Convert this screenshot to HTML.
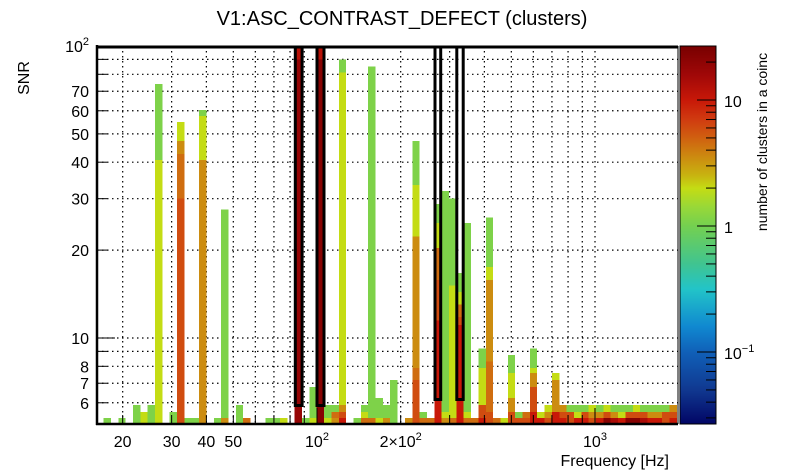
<!DOCTYPE html>
<html><head><meta charset="utf-8">
<style>
html,body{margin:0;padding:0;background:#fff;}
svg{display:block;font-family:"Liberation Sans",Arial,sans-serif;}
</style></head>
<body>
<svg id="chart" width="805" height="472" viewBox="0 0 805 472" xmlns="http://www.w3.org/2000/svg">
<text x="402" y="25" font-size="20" text-anchor="middle">V1:ASC_CONTRAST_DEFECT (clusters)</text>
<text transform="translate(29,78) rotate(-90)" font-size="16" text-anchor="middle">SNR</text>
<text x="669" y="466" font-size="16" text-anchor="end">Frequency [Hz]</text>
<text transform="translate(767,142) rotate(-90)" font-size="14" text-anchor="middle">number of clusters in a coinc</text>
<g id="grid"></g>
<g id="cells"></g>
<g id="boxes"></g>
<g id="axes"></g>
<g id="cbar"></g>
</svg>
<script>
// ---- data ----
const G=1.1,Y=2,AU=3.5,O=4.5,RO=6,R=10,RR=14,DR=22;
const B=5.08,r1=5.32,r2=5.57,r3=5.9;
const cellBins=[1,3,5,6,7,8,8,10,11,11,11,11,12,13,14,14,14,16,17,17,19,20,23,24,25,
27,27,28,29,29,30,30,31,31,32,32,32,33,33,33,33,33,35,36,36,36,37,37,38,38,39,39,40,42,
43,43,43,43,43,44,44,45,46,46,46,46,46,47,47,47,48,48,48,49,49,49,49,49,50,50,50,51,52,52,52,52,
53,53,53,53,53,54,55,56,56,56,56,57,57,58,58,59,59,59,59,59,60,60,61,61,61,62,62,62,
63,63,63,64,64,64,65,65,65,66,66,66,67,67,67,68,68,68,69,69,69,70,70,70,71,71,71,72,72,72,73,73,73,74,74,74,75,75,75,76,76,76,77,77,77,78,78,78];
const cellLo=[B,B,B,B,B,B,40.7,B,B,30,42.7,47.3,B,B,B,40.7,57.5,B,B,r1,B,B,B,B,B,
B,90,B,B,r1,B,90,B,r1,B,r1,r2,B,r1,r2,r3,81,B,B,r1,r2,B,r1,B,r1,B,r1,B,B,
B,7.18,7.9,22.3,33.4,B,r1,B,B,11.5,15.8,20.3,24.8,B,r1,r2,B,r1,15.1,B,11.1,11.8,13,14.4,B,r1,r2,B,B,r1,r3,7.9,
B,r2,8.3,15.8,17.5,B,B,B,r2,6.23,7.6,B,r1,B,r1,B,r2,6.8,7.6,7.9,B,r1,B,r1,r2,B,r2,7.18,
B,r1,r2,B,r1,r2,B,r1,r2,B,r1,r2,B,r1,r2,B,r1,r2,B,r1,r2,B,r1,r2,B,r1,r2,B,r1,r2,B,r1,r2,B,r1,r2,B,r1,r2,B,r1,r2,B,r1,r2,B,r1,r2];
const cellHi=[r1,r1,r3,r2,r3,40.7,74.2,r2,30,42.7,47.3,55,r1,r1,40.7,57.5,60.4,r1,r1,27.5,r3,r1,r1,r1,r1,
90,100,r1,r1,6.8,90,100,r1,r3,r1,r2,r3,r1,r2,r3,81,90,r1,r1,r2,r3,r1,85,r1,6.23,r1,r3,7.18,r1,
7.18,7.9,22.3,33.4,47.3,r1,r2,r1,11.5,15.8,20.3,24.8,28.8,r1,r2,31.9,r1,15.1,30.1,11.1,11.8,13,14.4,16.7,r1,r2,24.8,r1,r1,r3,7.9,9.2,
r2,8.3,15.8,17.5,25.9,r1,r1,r2,6.23,7.6,8.75,r1,r2,r1,r2,r2,6.8,7.6,7.9,9.2,r1,r2,r1,r2,r3,r2,7.18,7.6,
r1,r2,r3,r1,r2,r3,r1,r2,r3,r1,r2,r3,r1,r2,r3,r1,r2,r3,r1,r2,r3,r1,r2,r3,r1,r2,r3,r1,r2,r3,r1,r2,r3,r1,r2,r3,r1,r2,r3,r1,r2,r3,r1,r2,r3,r1,r2,r3];
const cellCounts=[G,G,G,Y,G,Y,G,G,RO,O,AU,Y,G,G,AU,Y,G,G,AU,G,G,O,G,G,Y,
18,12,G,Y,G,DR,12,Y,G,AU,O,G,R,RO,AU,Y,G,G,O,Y,G,O,G,Y,G,AU,G,G,AU,
RO,O,AU,Y,G,O,G,O,R,RO,O,Y,G,AU,Y,G,O,Y,G,R,RO,O,Y,G,O,Y,G,O,R,RO,Y,G,
RO,O,AU,Y,G,O,Y,RO,AU,Y,G,RO,G,RO,O,R,RO,AU,Y,G,R,Y,RO,AU,Y,R,AU,Y,
R,RO,AU,RO,RO,G,R,Y,G,R,RO,G,RO,AU,Y,R,AU,G,DR,RO,Y,RR,AU,G,R,Y,G,DR,RO,G,DR,RO,Y,RR,RO,G,R,AU,G,R,AU,G,RO,RO,G,R,RO,AU];
const yTickVals=[100,70,60,50,40,30,20,10,8,7,6];
const yTickBase=["10","70","60","50","40","30","20","10","8","7","6"];
const yTickExp=["2","","","","","","","","","",""];
const xTickVals=[20,30,40,50,100,200,1000];
const xTickBase=["20","30","40","50","10","2×10","10"];
const xTickExp=["","","","","2","2","3"];
const cbTickVals=[10,1,0.1];
const cbTickBase=["10","1","10"];
const cbTickExp=["","","−1"];

// ---- scales ----
const X0=97,X1=678,YT=46,YB=424;
const binL=96.2,binW=7.35;
function xBin(i){return binL+i*binW;}
function xF(f){return 317+278*Math.log10(f/100);}
function yS(s){return 338-292*Math.log10(s/10);}
function yC(v){return 226-126*Math.log10(v);}
const stops=[[1.43,[120,0,0]],[1.2,[160,8,8]],[1.0,[200,24,8]],[0.85,[208,58,16]],[0.7,[208,96,16]],[0.55,[204,138,16]],[0.4,[200,180,16]],[0.3,[196,220,20]],[0.15,[152,216,56]],[0.0,[116,208,80]],[-0.3,[64,196,144]],[-0.5,[34,196,200]],[-0.8,[16,136,208]],[-1.0,[16,96,184]],[-1.3,[16,56,144]],[-1.6,[0,0,96]]];
function col(v){const l=Math.log10(v);
 if(l>=stops[0][0])return "rgb("+stops[0][1]+")";
 for(let k=0;k<stops.length-1;k++){const a=stops[k],b=stops[k+1];
  if(l<=a[0]&&l>=b[0]){const t=(a[0]-l)/(a[0]-b[0]);
   return "rgb("+a[1].map((c,j)=>Math.round(c+(b[1][j]-c)*t)).join(",")+")";}}
 return "rgb("+stops[stops.length-1][1]+")";}
const NS="http://www.w3.org/2000/svg";
function mk(tag,attrs,parent){const e=document.createElementNS(NS,tag);for(const k in attrs)e.setAttribute(k,attrs[k]);parent.appendChild(e);return e;}
function label(parent,x,y,base,exp,anchor){
 const t=mk('text',{x:x,y:y,'font-size':16,'text-anchor':anchor},parent);
 const s1=mk('tspan',{},t);s1.textContent=base;
 if(exp){const s2=mk('tspan',{dy:-7,'font-size':11},t);s2.textContent=exp;}
 return t;}

// ---- grid ----
const grid=document.getElementById('grid');
const gx=[20,30,40,50,60,70,80,90,100,200,300,400,500,600,700,800,900,1000];
gx.forEach(f=>{const l=mk('line',{x1:xF(f),x2:xF(f),y1:YT,y2:YB,stroke:'#000','stroke-width':1.2,'stroke-dasharray':'1.5,3.5'},grid);

});
const gy=[6,7,8,9,10,20,30,40,50,60,70,80,90];
gy.forEach(s=>{const l=mk('line',{x1:X0,x2:X1,y1:yS(s),y2:yS(s),stroke:'#000','stroke-width':1.2,'stroke-dasharray':'1.5,3.5'},grid);

});
const topLine=mk('line',{x1:X0,x2:X1,y1:47,y2:47,stroke:'#000','stroke-width':3},grid);



// ---- cells ----
const cells=document.getElementById('cells');
for(let i=0;i<cellBins.length;i++){
 const x=Math.max(xBin(cellBins[i]),X0), x2=Math.min(xBin(cellBins[i]+1),X1);
 const yt=yS(cellHi[i]), yb=yS(cellLo[i]);
 const r=mk('rect',{x:x,y:yt,width:x2-x,height:yb-yt,fill:col(cellCounts[i]),'shape-rendering':'crispEdges'},cells);
 
 
}

// ---- boxes ----
const boxes=document.getElementById('boxes');
[[295.3,6.8,405.5],[317,7,405.5],[435,5.7,399.5],[456.8,6.4,399.5]].forEach(b=>{
 const r=mk('rect',{x:b[0],y:47,width:b[1],height:b[2]-47,fill:'none',stroke:'#000','stroke-width':3},boxes);
 
 
});

// ---- axes ----
const axes=document.getElementById('axes');
mk('line',{x1:X0,x2:X0,y1:YT-1,y2:YB+1,stroke:'#000','stroke-width':2.5},axes);
mk('line',{x1:X0-1,x2:X1,y1:YB,y2:YB,stroke:'#000','stroke-width':2.5},axes);
mk('line',{x1:X1,x2:X1,y1:YT,y2:YB,stroke:'#000','stroke-width':1},axes);
[6,7,8,9,10,20,30,40,50,60,70,80,90,100].forEach(s=>{const maj=(s==10||s==100);
 mk('line',{x1:X0,x2:X0+(maj?18:10),y1:yS(s),y2:yS(s),stroke:'#000','stroke-width':1},axes);});
gx.forEach(f=>{const maj=(f==100||f==1000);
 mk('line',{x1:xF(f),x2:xF(f),y1:YB,y2:YB-(maj?16:9),stroke:'#000','stroke-width':1},axes);});
yTickVals.forEach((v,i)=>{const t=label(axes,89,yS(v)+6,yTickBase[i],yTickExp[i],'end');
 
 });
xTickVals.forEach((v,i)=>{const t=label(axes,xF(v),447,xTickBase[i],xTickExp[i],'middle');
 
 });

// ---- colorbar ----
const cb=document.getElementById('cbar');
const CB0=680,CB1=716;
for(let y=YT;y<YB;y++){const v=Math.pow(10,(226-(y+0.5))/126);
 mk('rect',{x:CB0,y:y,width:CB1-CB0,height:1.2,fill:col(v),'shape-rendering':'crispEdges'},cb);}
mk('rect',{x:CB0,y:YT,width:CB1-CB0,height:YB-YT,fill:'none',stroke:'#000','stroke-width':1},cb);
[0.03,0.04,0.05,0.06,0.07,0.08,0.09,0.1,0.2,0.3,0.4,0.5,0.6,0.7,0.8,0.9,1,2,3,4,5,6,7,8,9,10,20].forEach(v=>{
 const maj=(v==0.1||v==1||v==10);
 mk('line',{x1:CB1,x2:CB1-(maj?19:10),y1:yC(v),y2:yC(v),stroke:'#000','stroke-width':1},cb);});
cbTickVals.forEach((v,i)=>{const t=label(cb,724,yC(v)+7,cbTickBase[i],cbTickExp[i],'start');
 
 });
</script>
</body></html>
